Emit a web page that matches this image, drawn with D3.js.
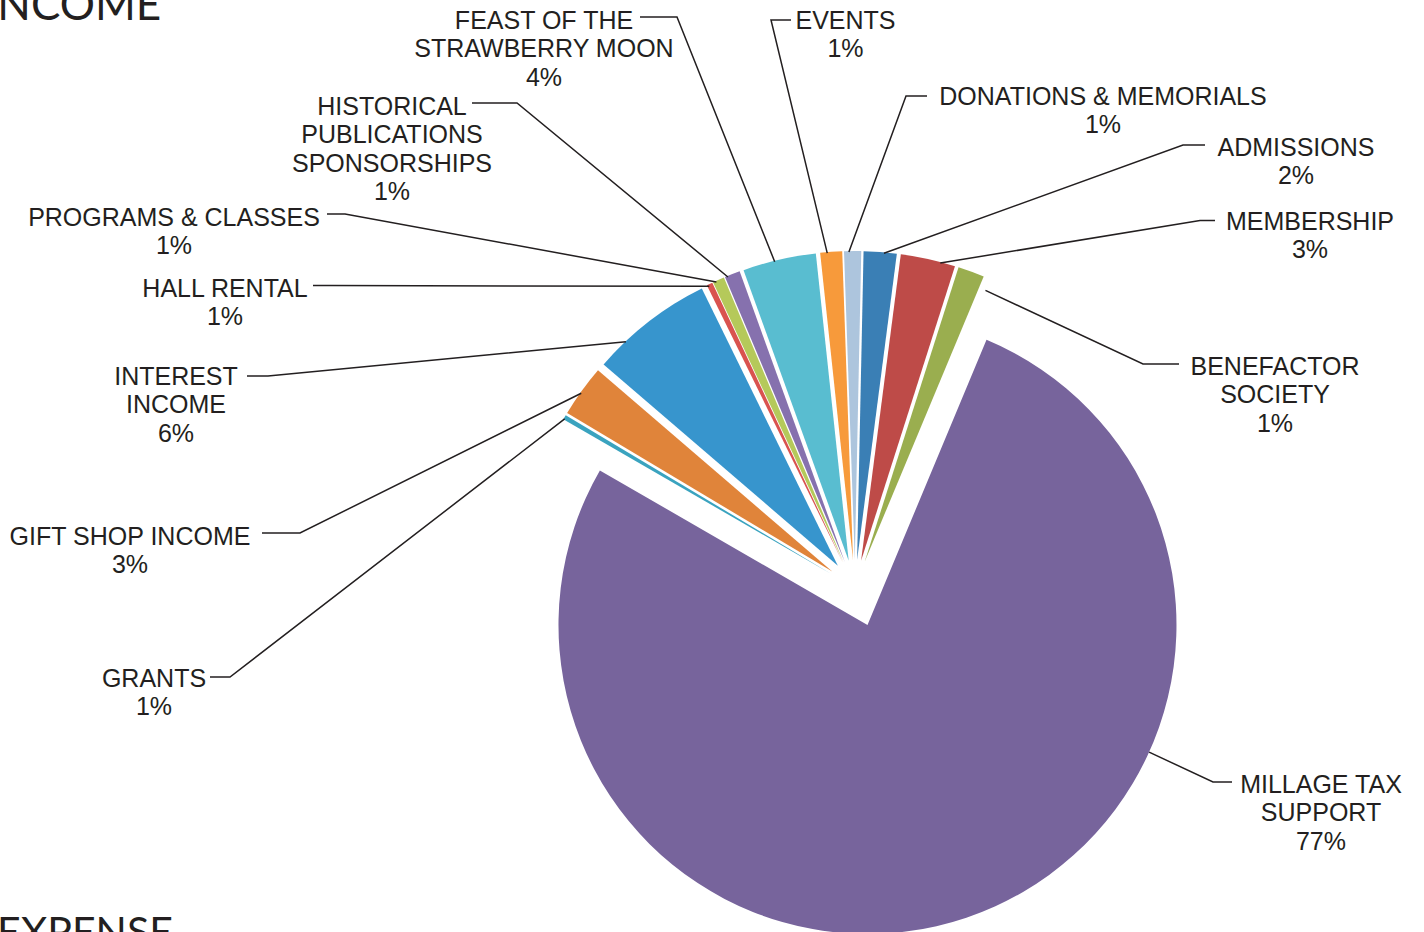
<!DOCTYPE html>
<html>
<head>
<meta charset="utf-8">
<script src="https://cdn.jsdelivr.net/npm/d3@7"></script>
<style>
  html, body { margin: 0; padding: 0; background: #fff; }
  svg { display: block; }
  .lbl { font-family: "Liberation Sans", Arial, sans-serif; font-size: 25px; fill: #231f20; }
  .title { font-family: Lato, "Noto Sans", sans-serif; fill: #231f20; }
</style>
</head>
<body>
<div id="container"></div>
<script>
/* ---------------- DATA ---------------- */
// clockwise from just right of 12 o'clock
const categories = [
  "ADMISSIONS", "MEMBERSHIP", "BENEFACTOR SOCIETY", "MILLAGE TAX SUPPORT",
  "GRANTS", "GIFT SHOP INCOME", "INTEREST INCOME", "HALL RENTAL",
  "PROGRAMS & CLASSES", "HISTORICAL PUBLICATIONS SPONSORSHIPS",
  "FEAST OF THE STRAWBERRY MOON", "EVENTS", "DONATIONS & MEMORIALS"
];
const shares = [1.72, 2.86, 1.38, 77.04, 0.25, 2.72, 6.44, 0.31, 0.61, 0.81, 3.83, 1.14, 0.89];
const shownPct = ["2%", "3%", "1%", "77%", "1%", "3%", "6%", "1%", "1%", "1%", "4%", "1%", "1%"];
const labelLines = [
  ["ADMISSIONS"],
  ["MEMBERSHIP"],
  ["BENEFACTOR", "SOCIETY"],
  ["MILLAGE TAX", "SUPPORT"],
  ["GRANTS"],
  ["GIFT SHOP INCOME"],
  ["INTEREST", "INCOME"],
  ["HALL RENTAL"],
  ["PROGRAMS & CLASSES"],
  ["HISTORICAL", "PUBLICATIONS", "SPONSORSHIPS"],
  ["FEAST OF THE", "STRAWBERRY MOON"],
  ["EVENTS"],
  ["DONATIONS & MEMORIALS"]
];

/* ---------------- LAYOUT ---------------- */
const colors = ["#3a7fb5", "#be4b48", "#9aae4f", "#77649c", "#3aa3bf", "#e0843a", "#3795cd",
  "#d9534f", "#b5c95a", "#8671ae", "#59bdd0", "#f79a3b", "#adc5dd"];

const W = 1424, H = 932;
const cx = 855, cy = 588, R = 309;
const startDeg = 1.2;
const explode = 28, explodeBig = 39;

// label: center x, first line center y; leader: anchor [deg, radius], elbow, end
const labelPos = [
  { x: 1296, y: 147, anchor: [5.0, 308], elbow: [1183, 145], end: [1205, 145] },
  { x: 1310, y: 221, anchor: [14.9, 308], elbow: [1200, 220.5], end: [1215, 220.5] },
  { x: 1275, y: 366, anchor: [24.0, 297], elbow: [1143, 364], end: [1179, 364] },
  { x: 1321, y: 784, anchor: [114.3, 309], elbow: [1213, 782], end: [1232, 782] },
  { x: 154, y: 678, anchor: [300.2, 308], elbow: [230, 677], end: [210, 677] },
  { x: 130, y: 536, anchor: [305.4, 308], elbow: [300, 533], end: [262, 533] },
  { x: 176, y: 376, anchor: [316.6, 308.5], elbow: [268, 376], end: [247, 376] },
  { x: 225, y: 288, anchor: [334.2, 307], elbow: [330, 285.5], end: [313, 285.5] },
  { x: 174, y: 217, anchor: [335.6, 308], elbow: [345, 214], end: [327, 214] },
  { x: 392, y: 106, anchor: [337.7, 308], elbow: [517, 103], end: [472, 103] },
  { x: 544, y: 20, anchor: [346.1, 308], elbow: [677, 17], end: [640, 17] },
  { x: 845.5, y: 20, anchor: [355.2, 308], elbow: [771, 20], end: [791, 20] },
  { x: 1103, y: 96, anchor: [358.9, 308], elbow: [906, 96], end: [927, 96] }
];

/* ---------------- DRAW ---------------- */
const svg = d3.select("#container").append("svg")
  .attr("width", W)
  .attr("height", H);

svg.append("rect").attr("width", W).attr("height", H).attr("fill", "#fff");

const rad = d => d * Math.PI / 180;
const a0 = rad(startDeg);

const pie = d3.pie()
  .sort(null)
  .value(d => d)
  .startAngle(a0)
  .endAngle(a0 + 2 * Math.PI);

const arcs = pie(shares);

const arc = d3.arc()
  .innerRadius(0)
  .outerRadius(R);

// each slice moved out along its bisector
function sliceCenter(d, i) {
  const mid = (d.startAngle + d.endAngle) / 2;
  const e = i === 3 ? explodeBig : explode;
  return [cx + Math.sin(mid) * e, cy - Math.cos(mid) * e];
}

svg.append("g")
  .selectAll("path")
  .data(arcs)
  .enter()
  .append("path")
  .attr("transform", (d, i) => `translate(${sliceCenter(d, i)})`)
  .attr("d", arc)
  .attr("fill", (d, i) => colors[i]);

/* ---------------- LEADERS ---------------- */
const line = d3.line();
svg.append("g")
  .selectAll("path")
  .data(arcs)
  .enter()
  .append("path")
  .attr("d", (d, i) => {
    const c = sliceCenter(d, i);
    const p = labelPos[i];
    const t = rad(p.anchor[0]);
    const start = [c[0] + Math.sin(t) * p.anchor[1], c[1] - Math.cos(t) * p.anchor[1]];
    return line([start, p.elbow, p.end]);
  })
  .attr("fill", "none")
  .attr("stroke", "#231f20")
  .attr("stroke-width", 1.5);

/* ---------------- LABELS ---------------- */
const lh = 28.3;
const labels = svg.append("g")
  .selectAll("text")
  .data(categories)
  .enter()
  .append("text")
  .attr("class", "lbl")
  .attr("text-anchor", "middle");

labels.each(function (d, i) {
  const p = labelPos[i];
  const rows = labelLines[i].concat([shownPct[i]]);
  d3.select(this).selectAll("tspan")
    .data(rows)
    .enter()
    .append("tspan")
    .attr("x", p.x)
    .attr("y", (r, j) => p.y + j * lh + 9)
    .text(r => r);
});

/* ---------------- TITLES (cut by page edge, as in the source) ---------------- */
svg.append("text")
  .attr("class", "title")
  .attr("x", -15)
  .attr("y", 20)
  .attr("font-size", 44)
  .text("INCOME");

svg.append("text")
  .attr("class", "title")
  .attr("x", -3)
  .attr("y", 946)
  .attr("font-size", 41)
  .text("EXPENSE");
</script>
</body>
</html>
